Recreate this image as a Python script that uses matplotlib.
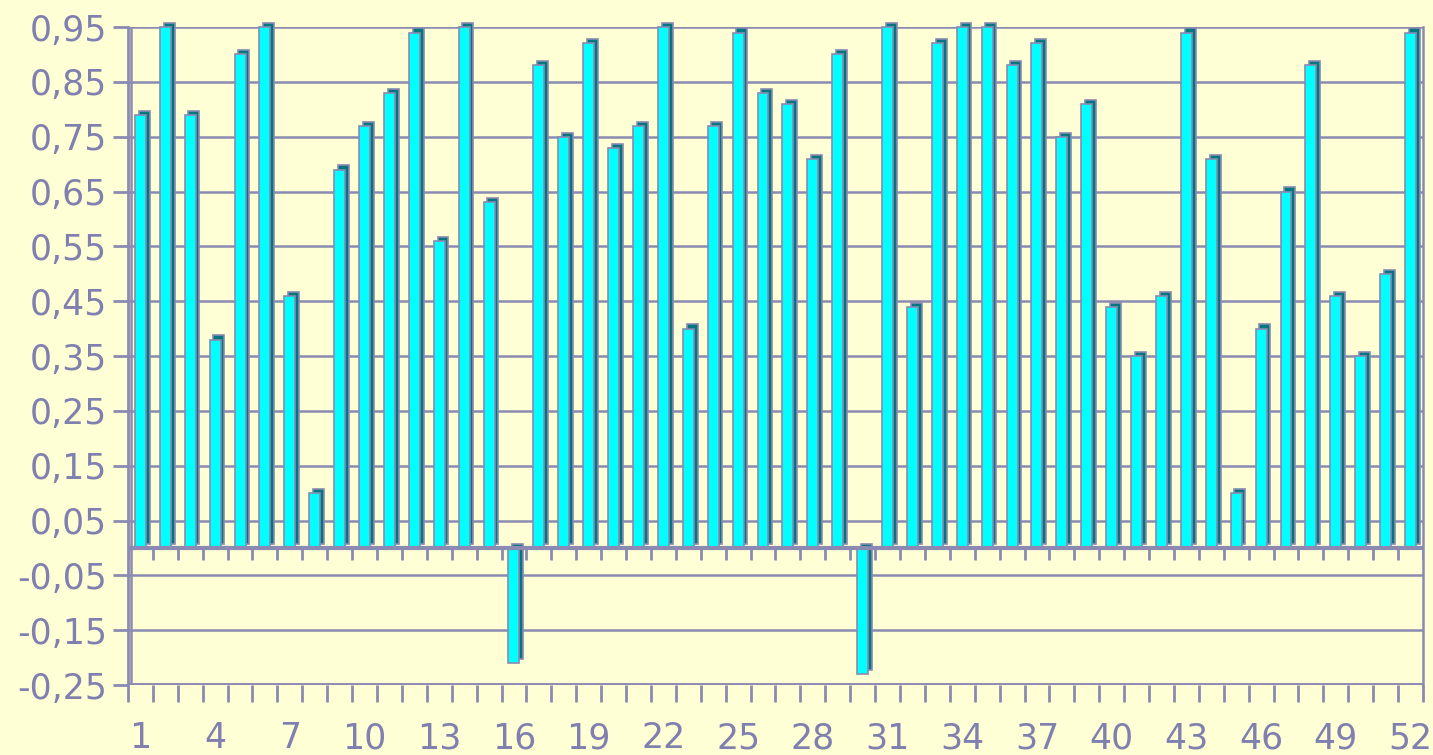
import numpy as np
import matplotlib.pyplot as plt
from matplotlib.ticker import FixedLocator, FuncFormatter

# bar values, weeks 1..52
weeks = list(range(1, 53))
values = [0.79, 0.95, 0.79, 0.38, 0.90, 0.95, 0.46, 0.10, 0.69, 0.77,
          0.83, 0.94, 0.56, 0.95, 0.63, -0.21, 0.88, 0.75, 0.92, 0.73,
          0.77, 0.95, 0.40, 0.77, 0.94, 0.83, 0.81, 0.71, 0.90, -0.23,
          0.95, 0.44, 0.92, 0.95, 0.95, 0.88, 0.92, 0.75, 0.81, 0.44,
          0.35, 0.46, 0.94, 0.71, 0.10, 0.40, 0.65, 0.88, 0.46, 0.35,
          0.50, 0.94]
y_ticks = [-0.25, -0.15, -0.05, 0.05, 0.15, 0.25, 0.35, 0.45, 0.55, 0.65,
           0.75, 0.85, 0.95]
x_labels = list(range(1, 53, 3))

bg = "#FFFFD6"
line_col = "#8A8AB2"
text_col = "#8080B0"
front = "#00FFFF"
side = "#00767E"

fig = plt.figure(figsize=(14.33, 7.55), dpi=100, facecolor=bg)
ax = fig.add_axes([0.0893, 0.0927, 0.9037, 0.8715], facecolor=bg)

x = np.array(weeks)
v = np.array(values)
width = 0.44
dx, dy = 0.15, 0.0075

# depth part (side + top), then the front face
ax.bar(x + dx, v, width, bottom=dy, color=side, edgecolor=line_col,
       linewidth=1.2, zorder=3, clip_on=False)
ax.bar(x, v, width, color=front, edgecolor=line_col, linewidth=1.2,
       zorder=4, clip_on=False)

ax.set_xlim(0.5, 52.5)
ax.set_ylim(-0.25, 0.95)

# grid and axis lines
for t in y_ticks:
    ax.axhline(t, color=line_col, lw=1.8, zorder=1)
ax.axhline(0, color=line_col, lw=3, zorder=5)
ax.axhline(-0.25, color=line_col, lw=3.5, zorder=5)
ax.axvline(0.5 + 0.12, color=line_col, lw=1.8, zorder=1)

bounds = np.arange(0.5, 53, 1.0)
ax.vlines(bounds, 0, -0.022, color=line_col, lw=2, zorder=5)

for s in ["top", "bottom"]:
    ax.spines[s].set_visible(False)
ax.spines["left"].set_color(line_col)
ax.spines["left"].set_linewidth(2)
ax.spines["right"].set_color(line_col)
ax.spines["right"].set_linewidth(1.8)

ax.yaxis.set_major_locator(FixedLocator(y_ticks))
ax.yaxis.set_major_formatter(FuncFormatter(lambda val, pos: f"{val:.2f}".replace(".", ",")))
ax.tick_params(axis="y", length=11, width=2, color=line_col, pad=4,
               labelsize=25, labelcolor=text_col)

ax.xaxis.set_major_locator(FixedLocator(x_labels))
ax.xaxis.set_minor_locator(FixedLocator(bounds))
ax.tick_params(axis="x", which="major", length=0, pad=26,
               labelsize=25, labelcolor=text_col)
ax.tick_params(axis="x", which="minor", length=12, width=2, color=line_col)

fig.savefig("out.png", dpi=100, facecolor=bg)
